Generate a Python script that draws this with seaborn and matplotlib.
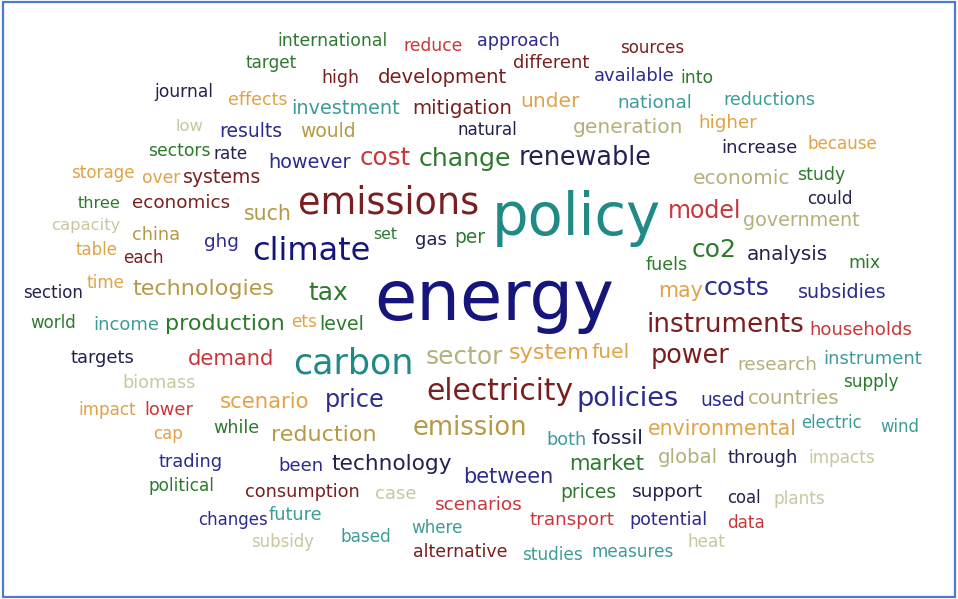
import matplotlib
matplotlib.use('Agg')
import matplotlib.pyplot as plt
import seaborn as sns
import pandas as pd
from matplotlib.patches import Rectangle

# Word cloud data: word, layout position (left x, baseline y in px), weight (font size pt), colour group
words = [
    "international", "reduce", "approach", "sources", "target", "high", "development",
    "different", "available", "into", "journal", "effects", "investment", "mitigation",
    "under", "national", "reductions", "low", "results", "would", "natural", "generation",
    "higher", "sectors", "rate", "however", "cost", "change", "renewable", "increase",
    "because", "storage", "over", "systems", "economic", "study", "three", "economics",
    "emissions", "policy", "could", "such", "model", "government", "capacity", "china",
    "ghg", "climate", "set", "gas", "per", "co2", "analysis", "mix", "table", "each",
    "fuels", "section", "time", "technologies", "tax", "energy", "may", "costs",
    "subsidies", "world", "income", "production", "ets", "level", "instruments",
    "households", "targets", "demand", "carbon", "sector", "system", "fuel", "power",
    "research", "instrument", "biomass", "electricity", "policies", "used", "countries",
    "supply", "impact", "lower", "scenario", "price", "cap", "while", "reduction",
    "emission", "both", "fossil", "environmental", "electric", "wind", "trading", "been",
    "technology", "between", "market", "global", "through", "impacts", "political",
    "consumption", "case", "scenarios", "prices", "support", "coal", "plants", "changes",
    "future", "transport", "potential", "data", "subsidy", "based", "where",
    "alternative", "studies", "measures", "heat",
]
x_left = [
    277, 404, 477, 620, 246, 321, 378,
    513, 594, 680, 154, 228, 291, 412,
    520, 617, 723, 176, 219, 300, 458, 573,
    698, 148, 214, 268, 360, 419, 519, 721,
    808, 71, 142, 183, 693, 797, 78, 132,
    298, 492, 807, 244, 668, 743, 51, 132,
    204, 252, 373, 415, 454, 692, 747, 848, 76, 123,
    646, 23, 87, 132, 308, 374, 658, 704,
    798, 30, 93, 165, 291, 319, 647,
    809, 71, 188, 293, 426, 509, 592, 651,
    737, 823, 122, 426, 577, 700, 748,
    843, 78, 144, 220, 325, 153, 213, 271,
    413, 546, 592, 648, 801, 880, 159, 278,
    331, 463, 569, 658, 728, 808, 149,
    245, 375, 435, 560, 632, 727, 774, 198,
    269, 530, 629, 727, 251, 341, 411,
    413, 522, 592, 688,
]
baseline = [
    46, 51, 46, 53, 68, 83, 83,
    68, 81, 83, 97, 105, 114, 114,
    107, 108, 105, 131, 137, 137, 135, 133,
    128, 156, 159, 168, 165, 166, 165, 153,
    149, 178, 183, 183, 184, 180, 208, 208,
    213, 235, 204, 220, 218, 226, 230, 240,
    247, 260, 239, 245, 243, 257, 260, 268, 255, 263,
    270, 298, 288, 295, 300, 320, 297, 295,
    298, 328, 330, 330, 327, 330, 332,
    335, 363, 365, 374, 364, 359, 358, 363,
    370, 364, 388, 400, 406, 406, 404,
    387, 415, 415, 408, 407, 439, 433, 441,
    435, 445, 444, 435, 428, 432, 467, 471,
    470, 483, 470, 463, 463, 463, 491,
    497, 499, 510, 498, 497, 503, 504, 525,
    520, 525, 525, 528, 547, 542, 533,
    557, 560, 557, 547,
]
weight = [
    12.4, 12.3, 12.7, 12.1, 12.2, 12.5, 14.1,
    12.9, 12.9, 12.4, 12.3, 12.5, 13.9, 14.1,
    14.5, 13.3, 12.5, 11.8, 13.5, 13.5, 12.1, 14.6,
    13.2, 12.3, 12.1, 13.9, 17.7, 18.2, 18.4, 13.1,
    12.1, 12.1, 12.3, 13.6, 14.5, 12.5, 11.6, 13.2,
    26.3, 41.5, 12.2, 14.8, 17.1, 13.8, 11.8, 12.8,
    13.2, 23.0, 11.3, 13.0, 13.4, 18.0, 14.4, 12.5, 12.0, 12.2,
    12.6, 12.0, 12.1, 16.0, 18.0, 49.6, 14.9, 18.3,
    13.8, 12.0, 13.0, 16.0, 12.2, 13.6, 18.9,
    13.1, 12.9, 15.2, 25.2, 17.9, 16.1, 14.6, 18.4,
    13.3, 13.0, 12.7, 21.4, 19.5, 13.4, 14.2,
    12.2, 12.1, 12.9, 15.3, 17.3, 12.0, 12.6, 16.0,
    18.5, 12.7, 14.6, 14.8, 11.9, 11.9, 12.8, 13.0,
    15.6, 15.0, 15.3, 14.2, 12.9, 12.2, 12.2,
    12.8, 13.1, 13.3, 13.4, 13.3, 11.9, 12.2, 12.0,
    12.8, 13.2, 12.6, 12.2, 11.9, 12.2, 12.1,
    12.5, 12.2, 12.2, 12.2,
]
group = [
    "green", "red", "blue", "maroon", "green", "maroon", "maroon",
    "maroon", "blue", "green", "ink", "orange", "aqua", "maroon",
    "orange", "aqua", "aqua", "sand", "blue", "gold", "ink", "olive",
    "orange", "green", "ink", "blue", "red", "green", "ink", "ink",
    "orange", "orange", "orange", "maroon", "olive", "green", "green", "maroon",
    "maroon", "teal", "ink", "gold", "red", "olive", "sand", "gold",
    "blue", "navy", "green", "ink", "green", "green", "ink", "green", "orange", "maroon",
    "green", "ink", "orange", "gold", "green", "navy", "orange", "blue",
    "blue", "green", "aqua", "green", "orange", "green", "maroon",
    "red", "ink", "red", "teal", "olive", "orange", "orange", "maroon",
    "olive", "aqua", "sand", "maroon", "blue", "blue", "olive",
    "green", "orange", "red", "orange", "blue", "orange", "green", "gold",
    "gold", "aqua", "ink", "orange", "aqua", "aqua", "blue", "blue",
    "ink", "blue", "green", "olive", "ink", "sand", "green",
    "maroon", "sand", "red", "green", "ink", "ink", "sand", "blue",
    "aqua", "red", "blue", "red", "sand", "aqua", "aqua",
    "maroon", "aqua", "aqua", "sand",
]

palette = {
    "navy": "#15157c", "ink": "#22224f", "blue": "#2c2c8e", "maroon": "#7a1f1f",
    "red": "#c9373a", "teal": "#1f8a86", "aqua": "#3c9c98", "green": "#2d7a2d",
    "gold": "#b59a45", "orange": "#e2a246", "olive": "#b5b07a", "sand": "#c9c7a0",
}

df = pd.DataFrame({"word": words, "x": x_left, "y": baseline,
                   "size": weight, "group": group})

sns.set_theme(style="white")
plt.rcParams['font.family'] = ['DejaVu Sans']

fig = plt.figure(figsize=(9.58, 5.99), dpi=100)
ax = fig.add_axes([0, 0, 1, 1])
ax.set_xlim(0, 958)
ax.set_ylim(599, 0)
ax.axis('off')

for row in df.itertuples():
    ax.text(row.x, row.y, row.word, fontsize=row.size, color=palette[row.group],
            ha='left', va='baseline')

# Blue frame around the cloud
ax.add_patch(Rectangle((3, 2), 952, 595, fill=False, edgecolor='#4a7bd0', linewidth=1.6))

fig.savefig("out.png", dpi=100)
